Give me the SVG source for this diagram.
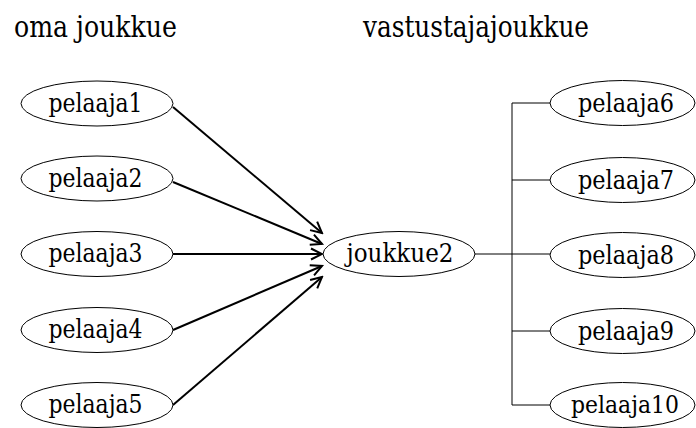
<svg xmlns="http://www.w3.org/2000/svg" width="696" height="428" viewBox="0 0 696 428">
<style>
text{font-family:"DejaVu Serif","Liberation Serif","Times New Roman",serif;fill:#000}
.n ellipse{fill:#fff;stroke:#000;stroke-width:1}
.n text{font-size:26px;text-anchor:middle}
.t{font-size:30px}
.a{stroke:#000;stroke-width:2;fill:none;marker-end:url(#v)}
.l{stroke:#000;stroke-width:1;fill:none}
</style>
<defs>
<marker id="v" markerUnits="userSpaceOnUse" markerWidth="14" markerHeight="14" viewBox="0 0 14 14" refX="12" refY="7" orient="auto">
<path d="M1,1.5 L12,7 L1,12.5" fill="none" stroke="#000" stroke-width="2"/>
</marker>
</defs>
<text class="t" x="14" y="37" textLength="163" lengthAdjust="spacingAndGlyphs">oma joukkue</text>
<text class="t" x="363" y="37" textLength="226" lengthAdjust="spacingAndGlyphs">vastustajajoukkue</text>
<g id="connectors">
<line class="a" x1="173" y1="107" x2="322" y2="233"/>
<line class="a" x1="173" y1="182" x2="322" y2="244"/>
<line class="a" x1="173" y1="254" x2="322" y2="254"/>
<line class="a" x1="173" y1="330" x2="322" y2="266"/>
<line class="a" x1="173" y1="405" x2="322" y2="277"/>
<path class="l" d="M475,254 H550 M512,103 V405 M512,103 H550 M512,180 H550 M512,331 H550 M512,405 H550"/>
</g>
<g id="pelaaja1" class="n"><ellipse cx="97" cy="103.5" rx="76" ry="22.5"/><text x="95.5" y="111.5" textLength="94" lengthAdjust="spacingAndGlyphs">pelaaja1</text></g>
<g id="pelaaja2" class="n"><ellipse cx="97" cy="178.5" rx="76" ry="22.5"/><text x="95.5" y="186.5" textLength="94" lengthAdjust="spacingAndGlyphs">pelaaja2</text></g>
<g id="pelaaja3" class="n"><ellipse cx="97" cy="254" rx="76" ry="22.5"/><text x="95.5" y="262" textLength="94" lengthAdjust="spacingAndGlyphs">pelaaja3</text></g>
<g id="pelaaja4" class="n"><ellipse cx="97" cy="330" rx="76" ry="22.5"/><text x="95.5" y="338" textLength="94" lengthAdjust="spacingAndGlyphs">pelaaja4</text></g>
<g id="pelaaja5" class="n"><ellipse cx="97" cy="405" rx="76" ry="22.5"/><text x="95.5" y="413" textLength="94" lengthAdjust="spacingAndGlyphs">pelaaja5</text></g>
<g id="joukkue2" class="n"><ellipse cx="399" cy="254" rx="76" ry="22.5"/><text x="400" y="262" textLength="107" lengthAdjust="spacingAndGlyphs">joukkue2</text></g>
<g id="pelaaja6" class="n"><ellipse cx="622.5" cy="103" rx="72.5" ry="22.5"/><text x="626" y="111.5" textLength="96" lengthAdjust="spacingAndGlyphs">pelaaja6</text></g>
<g id="pelaaja7" class="n"><ellipse cx="622.5" cy="180" rx="72.5" ry="22.5"/><text x="626" y="188.5" textLength="96" lengthAdjust="spacingAndGlyphs">pelaaja7</text></g>
<g id="pelaaja8" class="n"><ellipse cx="622.5" cy="255" rx="72.5" ry="22.5"/><text x="626" y="263.5" textLength="96" lengthAdjust="spacingAndGlyphs">pelaaja8</text></g>
<g id="pelaaja9" class="n"><ellipse cx="622.5" cy="331" rx="72.5" ry="22.5"/><text x="626" y="339.5" textLength="96" lengthAdjust="spacingAndGlyphs">pelaaja9</text></g>
<g id="pelaaja10" class="n"><ellipse cx="622.5" cy="405" rx="72.5" ry="22.5"/><text x="625" y="413" textLength="108" lengthAdjust="spacingAndGlyphs" style="font-size:25px">pelaaja10</text></g>
</svg>
